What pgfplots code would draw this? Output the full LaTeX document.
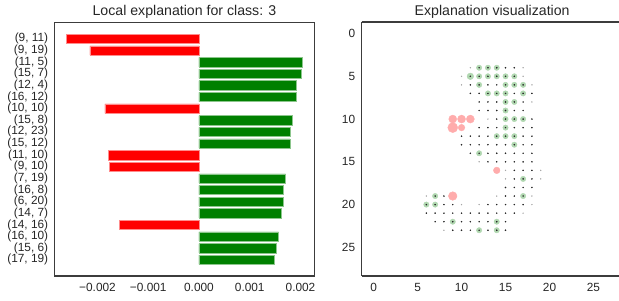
\documentclass[border=0pt]{standalone}
\usepackage{pgfplots}
\pgfplotsset{compat=1.18}
\usepackage{fontspec}
\setmainfont{Liberation Sans}
\definecolor{spine}{RGB}{60,60,60}
\definecolor{txt}{RGB}{38,38,38}
\definecolor{gcirc}{RGB}{176,215,176}
\definecolor{rcirc}{RGB}{255,172,172}
\definecolor{gbar}{RGB}{0,128,0}
\definecolor{rbar}{RGB}{255,0,0}
\begin{document}
\begin{tikzpicture}
\useasboundingbox (0bp,0bp) rectangle (619bp,301bp);
\pgfplotsset{
  every axis/.append style={
    scale only axis,
    anchor=south west,
    major tick length=0pt,
    axis line style={spine, line width=1.4bp},
    tick label style={font=\fontsize{11.9}{13}\selectfont, text=txt},
    xticklabel style={yshift=-3.5bp},
    yticklabel style={xshift=-3bp},
    title style={font=\fontsize{14.2}{16}\selectfont, text=txt, anchor=base, yshift=1bp},
    /pgf/number format/assume math mode=true,
    scaled ticks=false,
  }
}
% ---------- left: bar chart ----------
\begin{axis}[
  at={(54.7bp,25bp)},
  width=259.6bp, height=253.3bp,
  xmin=-0.002843, xmax=0.002272,
  ymin=-1.39, ymax=20.39, y dir=reverse,
  xtick={-0.002,-0.001,0,0.001,0.002},
  xticklabels={−0.002,−0.001,0.000,0.001,0.002},
  ytick={0,...,19},
  yticklabels={{(9, 11)},{(9, 19)},{(11, 5)},{(15, 7)},{(12, 4)},{(16, 12)},{(10, 10)},{(15, 8)},{(12, 23)},{(15, 12)},{(11, 10)},{(9, 10)},{(7, 19)},{(16, 8)},{(6, 20)},{(14, 7)},{(14, 16)},{(16, 10)},{(15, 6)},{(17, 19)}},
  title={Local explanation for class: 3},
  title style={at={(0.5,1)}},
  xbar, bar width=0.8, bar shift=0pt,
]
\addplot[fill=rbar, draw=rbar!45!white, line width=0.5bp] coordinates {
(-0.002607,0) (-0.002148,1) (-0.001852,6) (-0.001787,10) (-0.001768,11) (-0.001576,16)};
\addplot[fill=gbar, draw=gbar!45!white, line width=0.5bp] coordinates {
(0.002035,2) (0.002024,3) (0.001925,4) (0.001911,5) (0.001838,7) (0.001807,8) (0.001793,9)
(0.001708,12) (0.001669,13) (0.001661,14) (0.001616,15) (0.001570,17) (0.001517,18) (0.001478,19)};
\end{axis}
% ---------- right: explanation image ----------
\begin{axis}[
  at={(361.7bp,25bp)},
  width=257.3bp, height=254bp,
  xmin=-1.35, xmax=27.9,
  ymin=-1.35, ymax=28.35, y dir=reverse,
  xtick={0,5,...,25}, ytick={0,5,...,25},
  axis x line*=box, axis y line*=left,
  title={Explanation visualization},
  title style={at={(0.507,1)}},
  clip=false,
]
% green circles (positive)
\addplot[only marks, mark=*, color=gcirc, mark size=2.7bp] coordinates {
(12,4) (13,4) (14,4)
(12,5) (13,5) (14,5) (15,5) (16,5)
(12,6) (15,6) (16,6) (17,6)
(13,7) (14,7) (15,7) (17,7)
(15,8) (16,8)
(15,9)
(15,10) (16,10) (17,10)
(15,11)
(14,12) (15,12) (16,12)
(16,13)
(12,14)
(17,17)
(7,19) (17,19)
(6,20) (7,20)
(9,22) (14,22)
(12,23) (14,23)};
\addplot[only marks, mark=*, color=gcirc, mark size=3.3bp] coordinates {(11,5)};
% red circles (negative)
\addplot[only marks, mark=*, color=rcirc, mark size=5bp] coordinates {(9,11)};
\addplot[only marks, mark=*, color=rcirc, mark size=4.3bp] coordinates {(9,19)};
\addplot[only marks, mark=*, color=rcirc, mark size=4bp] coordinates {(9,10) (10,10) (11,10)};
\addplot[only marks, mark=*, color=rcirc, mark size=3.3bp] coordinates {(10,11) (14,16)};
% pixel dots (strong)
\addplot[only marks, mark=*, color=black!85, mark size=0.55bp] coordinates {
(12,4) (13,4) (14,4) (15,4) (16,4)
(11,5) (12,5) (13,5) (14,5) (15,5) (16,5)
(11,6) (12,6) (13,6) (14,6) (15,6) (16,6) (17,6)
(11,7) (12,7) (13,7) (14,7) (15,7) (16,7) (17,7) (18,7)
(12,8) (13,8) (14,8) (15,8) (16,8) (17,8)
(12,9) (13,9) (14,9) (15,9) (16,9) (17,9)
(14,10) (15,10) (16,10) (17,10) (18,10)
(12,11) (13,11) (14,11) (15,11) (16,11) (17,11) (18,11)
(10,12) (11,12) (12,12) (13,12) (14,12) (15,12) (16,12) (17,12) (18,12)
(10,13) (11,13) (12,13) (13,13) (14,13) (15,13) (16,13) (17,13) (18,13)
(11,14) (12,14) (13,14) (14,14) (15,14) (16,14) (17,14) (18,14)
(13,15) (14,15) (15,15) (16,15) (17,15) (18,15)
(16,16) (17,16) (18,16)
(16,17) (17,17) (18,17)
(15,18) (16,18) (17,18) (18,18)
(7,19) (8,19) (15,19) (16,19) (17,19)
(6,20) (7,20) (8,20) (9,20) (13,20) (14,20) (15,20) (16,20) (17,20)
(6,21) (7,21) (8,21) (9,21) (10,21) (11,21) (12,21) (13,21) (14,21) (15,21) (16,21)
(7,22) (8,22) (9,22) (10,22) (11,22) (12,22) (13,22) (14,22) (15,22)
(9,23) (10,23) (11,23) (12,23) (13,23) (14,23) (15,23)};
% pixel dots (faint)
\addplot[only marks, mark=*, color=black!35, mark size=0.45bp] coordinates {
(11,4) (17,4)
(10,5) (17,5)
(10,6) (18,6)
(18,8)
(13,10)
(12,15)
(15,16) (19,16)
(15,17) (19,17)
(6,19) (14,19) (18,19)
(10,20) (12,20) (18,20)
(17,21)
(8,23)};
\end{axis}
\end{tikzpicture}
\end{document}
